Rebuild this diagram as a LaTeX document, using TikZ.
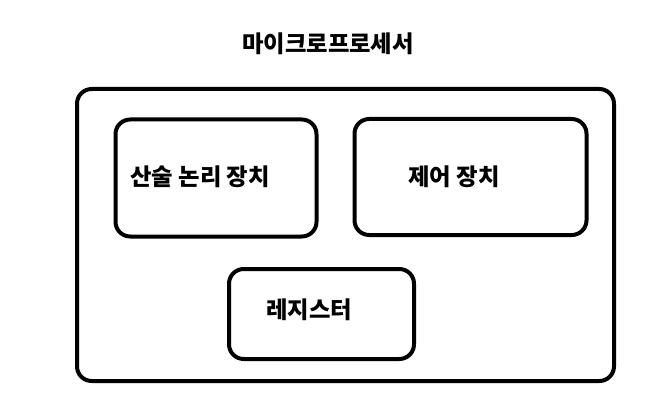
\documentclass[tikz,border=0pt]{standalone}
\usepackage{fontspec}
\newfontfamily\kr{Noto Sans CJK KR}
\usetikzlibrary{positioning}
\tikzset{box/.style={draw, line width=3pt, rounded corners=11pt, inner sep=0pt},
         lbl/.style={font=\kr\bfseries\fontsize{17.5}{20}\selectfont, inner sep=0pt}}

\begin{document}
\begin{tikzpicture}[x=0.75pt, y=-0.75pt]
  \useasboundingbox (0,0) rectangle (661,403);
  % title
  \node[lbl] (title) at (328,44) {마이크로프로세서};
  % boxes
  \node[box, minimum width=537*0.75pt, minimum height=292*0.75pt] (cpu) at (345.5,235) {};
  \node[box, minimum width=201*0.75pt, minimum height=117*0.75pt] (alu) at (216,178) {};
  \node[box, minimum width=232*0.75pt, minimum height=116*0.75pt] (cu)  at (470.5,177) {};
  \node[box, minimum width=185*0.75pt, minimum height=90*0.75pt]  (reg) at (321.5,314) {};
  % labels
  \node[lbl] (alutext) at (200,177) {산술 논리 장치};
  \node[lbl] (cutext)  at (454,177) {제어 장치};
  \node[lbl] (regtext) at (309,310) {레지스터};
\end{tikzpicture}
\end{document}
